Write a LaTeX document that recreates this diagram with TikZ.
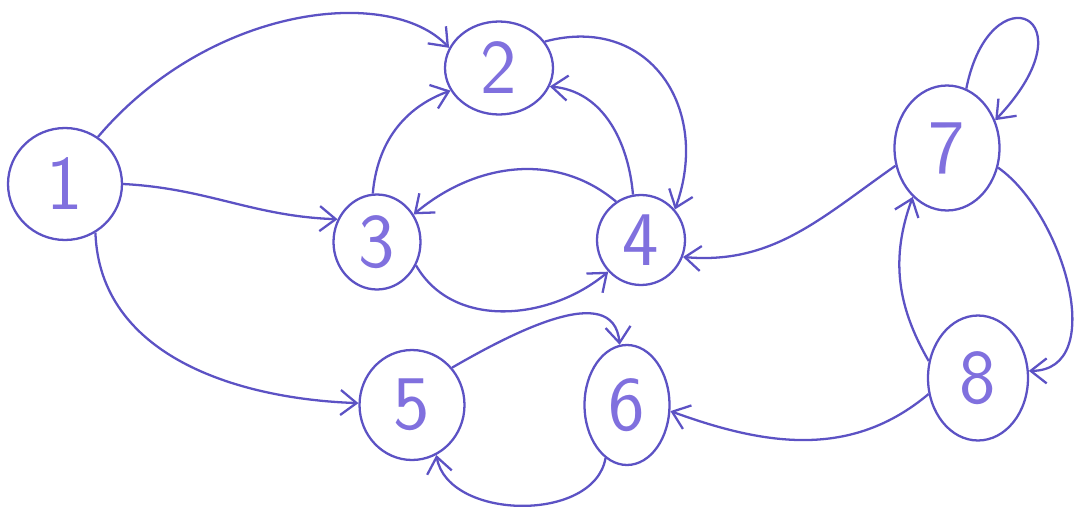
\documentclass[tikz,border=0pt]{standalone}
\usetikzlibrary{shapes.geometric,arrows.meta}
\definecolor{ink}{RGB}{92,82,196}
\definecolor{digit}{RGB}{128,112,222}
\begin{document}
\begin{tikzpicture}[x=0.02cm,y=-0.02cm,
  state/.style={draw=ink,line width=1.3pt,ellipse,inner sep=0pt,text=digit,
    font=\sffamily\fontsize{44}{44}\selectfont},
  edge/.style={draw=ink,line width=1.3pt,-{Straight Barb[length=3.2mm,width=5mm]}}]
\useasboundingbox (0,0) rectangle (1079,507);
\node[state,minimum width=2.28cm,minimum height=2.24cm] (n1) at (65,184) {1};
\node[state,minimum width=2.16cm,minimum height=1.86cm] (n2) at (499,68) {2};
\node[state,minimum width=1.74cm,minimum height=1.9cm] (n3) at (377,242) {3};
\node[state,minimum width=1.76cm,minimum height=1.8cm] (n4) at (641,240) {4};
\node[state,minimum width=2.1cm,minimum height=2.2cm] (n5) at (412,405) {5};
\node[state,minimum width=1.7cm,minimum height=2.4cm] (n6) at (627,405) {6};
\node[state,minimum width=2.1cm,minimum height=2.5cm] (n7) at (947,148) {7};
\node[state,minimum width=2.0cm,minimum height=2.5cm] (n8) at (978,378) {8};

\draw[edge] (n1.55) .. controls (210,5) and (390,-15) .. (n2.158);
\draw[edge] (n1.0) to[out=-3,in=178] (n3.150);
\draw[edge] (n1.-58) to[out=-88,in=178] (n5.178);
\draw[edge] (n3.95) to[out=85,in=200] (n2.205);
\draw[edge] (n4.100) to[out=95,in=-5] (n2.-20);
\draw[edge] (n2.30) to[out=15,in=70,looseness=1.3] (n4.42);
\draw[edge] (n4.123) to[out=140,in=40] (n3.37);
\draw[edge] (n3.-31) to[out=-60,in=-140] (n4.224);
\draw[edge] (n5.43) to[out=30,in=95] (n6.97);
\draw[edge] (n6.-112) to[out=-100,in=-80] (n5.-64);
\draw[edge] (n7.199) to[out=215,in=-5] (n4.-22);
\draw[edge] (n7.72) .. controls (990,-30) and (1095,15) .. (n7.30);
\draw[edge] (n7.-21) to[out=-35,in=0] (n8.8);
\draw[edge] (n8.161) to[out=120,in=-110] (n7.-125);
\draw[edge] (n8.-162) to[out=-140,in=-20] (n6.-8);
\end{tikzpicture}
\end{document}
